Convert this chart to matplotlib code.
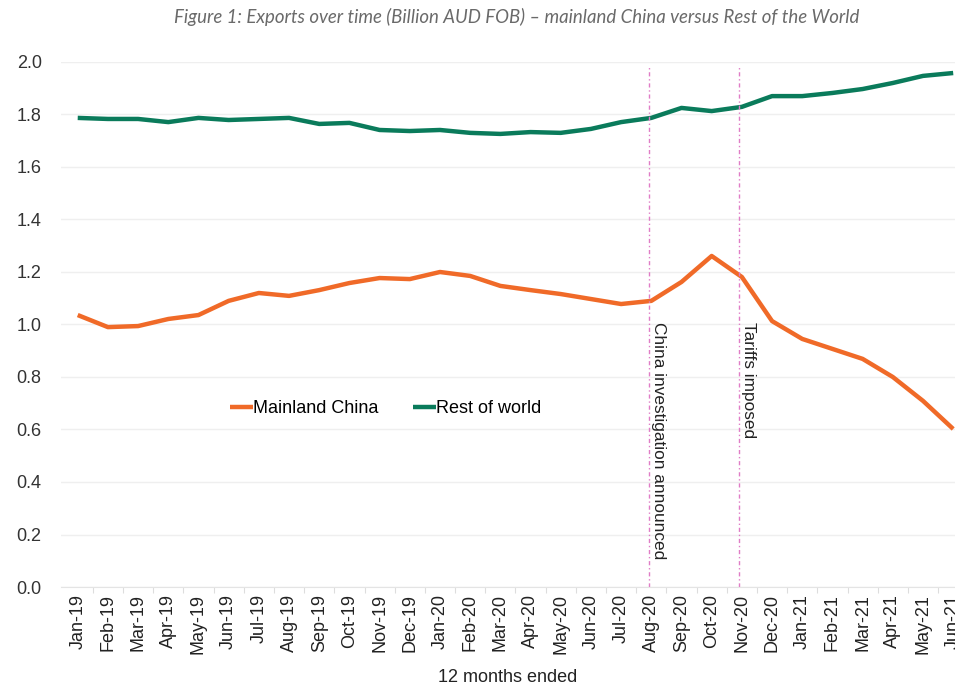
import matplotlib
matplotlib.use("Agg")
import matplotlib.pyplot as plt
import numpy as np

# months (12 months ended)
months = ['Jan-19', 'Feb-19', 'Mar-19', 'Apr-19', 'May-19', 'Jun-19', 'Jul-19', 'Aug-19',
          'Sep-19', 'Oct-19', 'Nov-19', 'Dec-19', 'Jan-20', 'Feb-20', 'Mar-20', 'Apr-20',
          'May-20', 'Jun-20', 'Jul-20', 'Aug-20', 'Sep-20', 'Oct-20', 'Nov-20', 'Dec-20',
          'Jan-21', 'Feb-21', 'Mar-21', 'Apr-21', 'May-21', 'Jun-21']

china = [1.036, 0.990, 0.994, 1.021, 1.036, 1.090, 1.120, 1.109, 1.131, 1.158,
         1.177, 1.173, 1.200, 1.185, 1.147, 1.131, 1.116, 1.097, 1.078, 1.090,
         1.162, 1.261, 1.181, 1.013, 0.945, 0.907, 0.869, 0.800, 0.709, 0.602]

rest_of_world = [1.787, 1.783, 1.783, 1.771, 1.787, 1.779, 1.783, 1.787, 1.764, 1.768,
                 1.741, 1.737, 1.741, 1.730, 1.726, 1.733, 1.730, 1.745, 1.771, 1.787,
                 1.825, 1.813, 1.829, 1.870, 1.870, 1.882, 1.897, 1.920, 1.947, 1.958]

events = {'Aug-20': 'China investigation announced', 'Nov-20': 'Tariffs imposed'}

plt.rcParams['font.family'] = ['Liberation Sans', 'DejaVu Sans']

fig = plt.figure(figsize=(9.55, 6.88), dpi=100)
ax = fig.add_axes([0.064, 0.1468, 0.936, 0.7631])

x = np.arange(len(months))
ax.plot(x, china, color='#F06A28', linewidth=3.2, label='Mainland China', solid_capstyle='butt')
ax.plot(x, rest_of_world, color='#0A7B5B', linewidth=3.2, label='Rest of world', solid_capstyle='butt')

# event markers
for month, label in events.items():
    i = months.index(month)
    ax.axvline(i - 0.08, ymin=0, ymax=0.99, color='#E07CC6', linestyle=(0, (3, 2, 1, 2)), linewidth=1.0)
    ax.text(i - 0.02, 1.01, label, rotation=270, ha='left', va='top', fontsize=12.4, color='#222222')

ax.set_xlim(-0.55, 29.06)
ax.set_ylim(0, 2.0)
ax.set_yticks(np.arange(0, 2.01, 0.2))
ax.set_yticklabels([f'{v:.1f}' for v in np.arange(0, 2.01, 0.2)])
ax.set_xticks(x)
ax.set_xticklabels(months, rotation=90)
ax.set_xticks(x[:-1] + 0.5, minor=True)

ax.tick_params(axis='y', length=0, labelsize=13, labelcolor='#333333', pad=14)
ax.tick_params(axis='x', which='major', length=0, labelsize=13, labelcolor='#222222', pad=5)
ax.tick_params(axis='x', which='minor', length=4, color='#dddddd', width=0.8)

ax.grid(axis='y', color='#efefef', linewidth=1.0)
ax.set_axisbelow(True)
for s in ['top', 'right', 'left']:
    ax.spines[s].set_visible(False)
ax.spines['bottom'].set_color('#e4e4e4')

ax.set_xlabel('12 months ended', fontsize=13, color='#222222', labelpad=11)

ax.legend(loc='center', bbox_to_anchor=(0.363, 0.34), ncol=2, frameon=False, fontsize=13,
          handlelength=1.3, handletextpad=0.0, columnspacing=1.9)

fig.text(0.541, 0.975, 'Figure 1: Exports over time (Billion AUD FOB) \u2013 mainland China versus Rest of the World',
         ha='center', va='center', fontsize=13.4, style='italic', color='#6a6a6a', family=['Lato', 'DejaVu Sans'])

fig.savefig('out.png', dpi=100)
